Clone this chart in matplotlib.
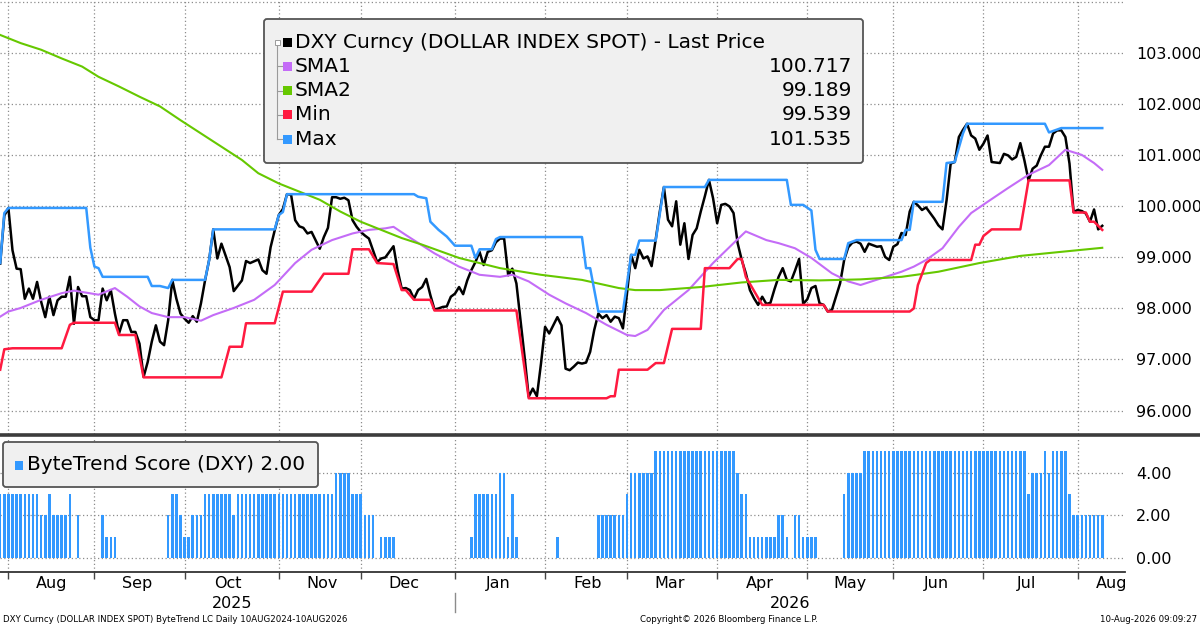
import numpy as np
import pandas as pd
import matplotlib
matplotlib.use('Agg')
import matplotlib.pyplot as plt
from matplotlib.patches import FancyBboxPatch, Rectangle
from matplotlib.lines import Line2D
from matplotlib.transforms import IdentityTransform, blended_transform_factory

plt.rcParams['font.family'] = ['DejaVu Sans']

# trading-day index (0 = 30 Jul 2025) and values
price_day = [0, 1, 2, 3, 4, 5, 6, 7, 8, 9, 10, 11, 12, 13, 14, 15, 16, 17, 18, 19,
             20, 21, 22, 23, 24, 25, 26, 27, 28, 29, 30, 31, 32, 33, 34, 35, 36, 37, 38, 39,
             40, 41, 42, 43, 44, 45, 46, 47, 48, 49, 50, 51, 52, 53, 54, 56, 57, 59, 60, 61,
             63, 64, 65, 66, 67, 68, 69, 70, 71, 72, 73, 74, 75, 76, 78, 79, 80, 81, 82, 83,
             84, 85, 86, 87, 88, 89, 90, 91, 92, 93, 94, 95, 96, 97, 98, 99, 100, 101, 102, 103,
             104, 105, 106, 107, 108, 109, 110, 111, 112, 113, 114, 115, 116, 117, 118, 119, 120, 121, 122, 123,
             124, 125, 126, 127, 128, 129, 130, 131, 132, 133, 134, 136, 137, 138, 139, 140, 141, 142, 143, 144,
             145, 146, 147, 148, 149, 150, 151, 152, 153, 154, 155, 156, 157, 158, 159, 160, 161, 162, 163, 164,
             165, 166, 167, 168, 169, 170, 171, 172, 173, 174, 175, 176, 177, 178, 179, 180, 181, 182, 183, 184,
             185, 186, 187, 188, 189, 190, 191, 192, 193, 194, 195, 196, 197, 198, 199, 200, 201, 202, 203, 204,
             205, 206, 207, 208, 209, 210, 211, 212, 213, 214, 215, 216, 217, 218, 219, 220, 221, 222, 223, 224,
             225, 226, 227, 228, 229, 230, 231, 232, 233, 234, 235, 236, 237, 238, 239, 240, 241, 242, 243, 244,
             245, 246, 247, 248, 249, 250, 251, 252, 253, 254, 255, 256, 257, 258, 259, 260, 261, 262, 263, 264,
             265, 266, 267, 268, 269]
price_val = [98.88, 99.82, 99.97, 99.14, 98.78, 98.77, 98.19, 98.39, 98.19, 98.52, 98.13, 97.83, 98.23, 97.87, 98.16, 98.23, 98.23, 98.62, 97.70, 98.42,
             98.24, 98.24, 97.83, 97.77, 97.77, 98.39, 98.16, 98.36, 97.90, 97.51, 97.77, 97.77, 97.54, 97.54, 97.31, 96.66, 96.95, 97.35, 97.67, 97.35,
             97.28, 97.77, 98.56, 98.19, 97.90, 97.80, 97.72, 97.85, 97.74, 98.10, 98.55, 98.95, 99.55, 98.98, 99.27, 98.81, 98.34, 98.55, 98.93, 98.89,
             98.96, 98.75, 98.68, 99.20, 99.53, 99.83, 99.95, 100.24, 100.23, 99.73, 99.61, 99.58, 99.47, 99.50, 99.17, 99.40, 99.58, 100.18, 100.18, 100.15,
             100.17, 100.12, 99.73, 99.60, 99.50, 99.43, 99.37, 99.14, 98.91, 98.98, 99.00, 99.11, 99.22, 98.75, 98.39, 98.40, 98.36, 98.19, 98.36, 98.42,
             98.58, 98.26, 97.98, 98.00, 98.03, 98.04, 98.23, 98.29, 98.42, 98.28, 98.55, 98.75, 98.91, 99.11, 98.85, 99.11, 99.14, 99.30, 99.37, 99.37,
             98.65, 98.78, 98.49, 97.77, 97.05, 96.27, 96.43, 96.28, 96.92, 97.64, 97.51, 97.83, 97.67, 96.82, 96.79, 96.86, 96.94, 96.92, 96.94, 97.15,
             97.58, 97.90, 97.81, 97.87, 97.74, 97.84, 97.81, 97.61, 98.30, 99.05, 98.79, 99.15, 98.98, 99.02, 98.83, 99.35, 99.90, 100.38, 99.74, 99.61,
             100.10, 99.25, 99.67, 98.97, 99.44, 99.57, 99.90, 100.20, 100.52, 100.16, 99.67, 100.03, 100.05, 100.00, 99.87, 99.28, 98.95, 98.69, 98.36, 98.20,
             98.07, 98.23, 98.09, 98.11, 98.38, 98.62, 98.79, 98.56, 98.53, 98.74, 98.97, 98.09, 98.18, 98.40, 98.44, 98.10, 98.07, 97.94, 97.97, 98.23,
             98.49, 98.95, 99.20, 99.29, 99.31, 99.27, 99.11, 99.27, 99.24, 99.21, 99.22, 99.01, 98.95, 99.21, 99.26, 99.48, 99.44, 99.90, 100.09, 100.02,
             99.93, 99.98, 99.87, 99.76, 99.63, 99.55, 100.12, 100.84, 100.87, 101.36, 101.50, 101.62, 101.39, 101.33, 101.11, 101.23, 101.39, 100.87, 100.86, 100.85,
             101.03, 101.00, 100.92, 100.97, 101.24, 100.90, 100.51, 100.74, 100.80, 101.00, 101.17, 101.17, 101.43, 101.49, 101.49, 101.36, 100.84, 99.89, 99.93, 99.91,
             99.86, 99.70, 99.94, 99.55, 99.62]

sma1_day = [0, 2, 5, 10, 15, 18, 21, 24, 28, 31, 34, 37, 41, 45, 49, 52, 57, 62, 67, 72,
            76, 81, 86, 90, 94, 96, 99, 106, 112, 117, 122, 125, 129, 134, 138, 143, 148, 153, 155, 158,
            162, 168, 174, 179, 182, 187, 190, 194, 198, 203, 207, 210, 215, 220, 223, 226, 230, 234, 237, 241,
            246, 251, 256, 260, 264, 267, 269]
sma1_val = [97.84, 97.94, 98.01, 98.17, 98.30, 98.35, 98.31, 98.27, 98.40, 98.23, 98.04, 97.91, 97.83, 97.83, 97.76, 97.87, 98.01, 98.17, 98.46, 98.89,
            99.15, 99.34, 99.47, 99.54, 99.57, 99.60, 99.44, 99.08, 98.82, 98.66, 98.62, 98.66, 98.53, 98.27, 98.10, 97.91, 97.68, 97.48, 97.46, 97.58,
            97.97, 98.36, 98.89, 99.28, 99.51, 99.34, 99.28, 99.18, 98.99, 98.69, 98.53, 98.46, 98.59, 98.72, 98.82, 98.95, 99.18, 99.60, 99.87, 100.09,
            100.36, 100.62, 100.81, 101.11, 101.01, 100.85, 100.717]

sma2_day = [0, 5, 10, 15, 20, 24, 29, 34, 39, 44, 49, 54, 59, 63, 68, 73, 78, 83, 88, 93,
            98, 103, 112, 122, 132, 142, 151, 155, 161, 171, 181, 190, 200, 210, 220, 229, 239, 249, 259, 269]
sma2_val = [103.36, 103.20, 103.07, 102.90, 102.74, 102.54, 102.35, 102.15, 101.96, 101.69, 101.43, 101.17, 100.91, 100.65, 100.45, 100.29, 100.13, 99.90, 99.70, 99.54,
            99.38, 99.25, 98.99, 98.79, 98.66, 98.56, 98.40, 98.36, 98.36, 98.42, 98.51, 98.56, 98.55, 98.57, 98.62, 98.72, 98.89, 99.03, 99.11, 99.189]

min_day = [0, 1, 3, 15, 17, 18, 28, 29, 33, 35, 54, 56, 59, 60, 67, 69, 76, 79, 85, 86,
           90, 92, 96, 98, 99, 101, 105, 106, 126, 129, 148, 149, 150, 151, 158, 160, 162, 164, 171, 172,
           178, 180, 181, 182, 186, 201, 202, 222, 223, 224, 226, 227, 237, 238, 239, 240, 242, 249, 251, 261,
           262, 265, 266, 267, 269]
min_val = [96.80, 97.20, 97.22, 97.22, 97.68, 97.72, 97.72, 97.48, 97.48, 96.65, 96.65, 97.25, 97.25, 97.71, 97.71, 98.33, 98.33, 98.68, 98.68, 99.16,
           99.16, 98.89, 98.87, 98.36, 98.36, 98.17, 98.17, 97.96, 97.96, 96.24, 96.24, 96.28, 96.28, 96.80, 96.80, 96.93, 96.93, 97.60, 97.60, 98.79,
           98.79, 98.97, 98.97, 98.62, 98.07, 98.07, 97.94, 97.94, 98.00, 98.46, 98.89, 98.95, 98.95, 99.25, 99.25, 99.42, 99.55, 99.55, 100.51, 100.51,
           99.88, 99.88, 99.70, 99.70, 99.539]

max_day = [0, 1, 2, 21, 22, 23, 24, 25, 36, 37, 39, 41, 42, 50, 51, 52, 67, 68, 69, 70,
           101, 102, 104, 105, 107, 109, 111, 115, 116, 117, 120, 121, 122, 142, 143, 144, 146, 152, 154, 155,
           156, 160, 162, 172, 173, 192, 193, 196, 198, 199, 200, 206, 207, 209, 220, 221, 222, 223, 230, 231,
           233, 235, 236, 255, 256, 259, 269]
max_val = [98.89, 99.87, 99.97, 99.97, 99.19, 98.82, 98.79, 98.62, 98.62, 98.44, 98.44, 98.40, 98.56, 98.56, 98.95, 99.55, 99.55, 99.83, 99.89, 100.24,
           100.24, 100.19, 100.16, 99.70, 99.54, 99.41, 99.23, 99.23, 98.99, 99.16, 99.16, 99.36, 99.40, 99.40, 98.79, 98.79, 97.94, 97.94, 99.05, 99.05,
           99.33, 99.33, 100.38, 100.38, 100.52, 100.52, 100.03, 100.03, 99.92, 99.15, 98.97, 98.97, 99.28, 99.34, 99.34, 99.54, 99.54, 100.09, 100.09, 100.85,
           100.87, 101.43, 101.62, 101.62, 101.45, 101.535, 101.535]

# ByteTrend score: level and number of consecutive trading days
score_levels = [3, 2, 3, 2, 3, 0, 2, 0, 2, 1, 0, 2, 3, 2, 1, 2, 3, 2, 3, 4, 3, 2, 0, 1, 0, 1, 3, 4, 1,
                3, 1, 0, 1, 0, 2, 3, 4, 5, 4, 3, 1, 2, 1, 0, 2, 1, 0, 3, 4, 5, 3, 4, 5, 4, 5, 3, 2]
score_runs = [10, 2, 1, 4, 1, 1, 1, 5, 1, 3, 12, 1, 2, 1, 2, 3, 7, 1, 24, 4, 3, 3, 1, 4, 18, 1, 6, 2, 1,
              1, 1, 9, 1, 9, 7, 1, 6, 20, 1, 2, 7, 2, 1, 1, 2, 4, 6, 1, 4, 40, 1, 3, 1, 1, 4, 1, 8]

series_names = ['DXY Curncy (DOLLAR INDEX SPOT) - Last Price', 'SMA1', 'SMA2', 'Min', 'Max']
series_colors = ['#000000', '#c46cf7', '#66c800', '#ff1a40', '#3399ff']

dates = pd.bdate_range('2025-07-30', periods=270)

score = np.repeat(score_levels, score_runs)
score_day = np.arange(len(score))
is_new_month = np.r_[False, dates.month[1:] != dates.month[:-1]]
month_start = np.flatnonzero(is_new_month)
month_names = dates[month_start].strftime('%b')

W, H = 1200, 627
fig = plt.figure(figsize=(12, 6.27), dpi=100)
fig.patch.set_facecolor('white')

ax = fig.add_axes([0, 1 - 434 / H, 1125 / W, 434 / H])
ax2 = fig.add_axes([0, 1 - 572 / H, 1125 / W, (572 - 437) / H])

xlim = (-0.05, 274.55)
grid_kw = dict(color='#8c8c8c', linestyle=(0, (1, 2)), linewidth=0.9)

# price panel
ax.plot(price_day, price_val, color=series_colors[0], lw=1.8, zorder=3)
ax.plot(sma1_day, sma1_val, color=series_colors[1], lw=1.5, zorder=4)
ax.plot(sma2_day, sma2_val, color=series_colors[2], lw=1.5, zorder=4)
ax.plot(min_day, min_val, color=series_colors[3], lw=1.8, zorder=5)
ax.plot(max_day, max_val, color=series_colors[4], lw=1.8, zorder=5)
ax.set_xlim(*xlim)
ax.set_ylim(95.54, 104.045)
ax.set_yticks(range(96, 104))
ax.set_yticklabels([f'{v:.3f}' for v in range(96, 104)])
ax.yaxis.tick_right()
ax.tick_params(axis='y', length=0, pad=8, labelsize=11.5)
ax.set_xticks(month_start)
ax.tick_params(axis='x', length=0, labelbottom=False)
ax.grid(True, **grid_kw)
ax.axhline(104, **grid_kw)
for s in ax.spines.values():
    s.set_visible(False)

# score panel
ax2.bar(score_day, score, width=0.62, color='#3399ff', linewidth=0, zorder=3)
ax2.set_xlim(*xlim)
ax2.set_ylim(-0.66, 5.68)
ax2.set_yticks([0, 2, 4])
ax2.set_yticklabels(['0.00', '2.00', '4.00'])
ax2.yaxis.tick_right()
ax2.tick_params(axis='y', length=0, pad=8, labelsize=11.5)
ax2.set_xticks(month_start)
ax2.tick_params(axis='x', length=5, width=1, color='#444444', direction='out', labelbottom=False)
ax2.grid(True, **grid_kw)
for k, s in ax2.spines.items():
    s.set_visible(k == 'bottom')
ax2.spines['bottom'].set_color('#333333')
ax2.spines['bottom'].set_linewidth(1.3)

trans = blended_transform_factory(ax2.transData, ax2.transAxes)
for m, name in zip(month_start, month_names):
    ax2.text(min(m + 10.5, 271.3), -0.083, name, transform=trans, ha='center', va='center',
             fontsize=11.5, clip_on=False)
jan = month_start[dates[month_start].month == 1][0]
ax2.text((month_start[0] + jan) / 2, -0.23, '2025', transform=trans, ha='center', va='center',
         fontsize=11.5, clip_on=False)
ax2.text((jan + xlim[1]) / 2, -0.23, '2026', transform=trans, ha='center', va='center',
         fontsize=11.5, clip_on=False)
ax2.add_line(Line2D([jan, jan], [-0.156, -0.296], transform=trans, color='#8c8c8c', lw=1,
                    clip_on=False))

# panel separator
fig.add_artist(Line2D([0, 1], [1 - 435 / H, 1 - 435 / H], transform=fig.transFigure,
                      color='#3c3c3c', lw=2.6))
fig.add_artist(Rectangle((594, H - 436), 12, 2, transform=IdentityTransform(),
                         color='#b8b8b8', lw=0))

# price legend
def px(x, y):
    return x, H - y

leg = FancyBboxPatch(px(264, 163), 863 - 264, 163 - 19, boxstyle='round,pad=0,rounding_size=3',
                     transform=IdentityTransform(), facecolor='#f0f0f0', edgecolor='#555555', lw=1.3)
fig.add_artist(leg)
last_vals = ['', f'{sma1_val[-1]:.3f}', f'{sma2_val[-1]:.3f}', f'{min_val[-1]:.3f}', f'{max_val[-1]:.3f}']
row_y = [42 + 24.3 * i for i in range(5)]
fig.add_artist(Line2D([277, 277], [H - 46, H - row_y[-1]], transform=IdentityTransform(),
                      color='#9a9a9a', lw=0.8))
fig.add_artist(Rectangle(px(274.5, 44.5), 5, 5, transform=IdentityTransform(),
                         facecolor='white', edgecolor='#9a9a9a', lw=0.7))
for i, (name, col, val) in enumerate(zip(series_names, series_colors, last_vals)):
    y = row_y[i]
    if i > 0:
        fig.add_artist(Line2D([277, 282], [H - y, H - y], transform=IdentityTransform(),
                              color='#9a9a9a', lw=0.8))
    fig.add_artist(Rectangle(px(283, y + 4.5), 9, 9, transform=IdentityTransform(), color=col, lw=0))
    fig.text(295 / W, 1 - y / H, name, ha='left', va='center', fontsize=14.5)
    if val:
        fig.text(852 / W, 1 - y / H, val, ha='right', va='center', fontsize=14.5)

# score legend
leg2 = FancyBboxPatch(px(3, 487), 318 - 3, 487 - 442, boxstyle='round,pad=0,rounding_size=3',
                      transform=IdentityTransform(), facecolor='#f0f0f0', edgecolor='#555555', lw=1.3)
fig.add_artist(leg2)
fig.add_artist(Rectangle(px(14.5, 470), 8.5, 9, transform=IdentityTransform(), color='#3399ff', lw=0))
fig.text(27 / W, 1 - 465 / H, f'ByteTrend Score (DXY) {score_levels[-1]:.2f}', ha='left', va='center',
         fontsize=14.4)

# footer
fig.text(3 / W, 1 - 620 / H, 'DXY Curncy (DOLLAR INDEX SPOT) ByteTrend LC Daily 10AUG2024-10AUG2026',
         ha='left', va='center', fontsize=6.2)
fig.text(729 / W, 1 - 620 / H, 'Copyright\u00a9 2026 Bloomberg Finance L.P.', ha='center', va='center',
         fontsize=6.2)
fig.text(1197 / W, 1 - 620 / H, '10-Aug-2026 09:09:27', ha='right', va='center', fontsize=6.2)

fig.savefig('out.png', dpi=100)
